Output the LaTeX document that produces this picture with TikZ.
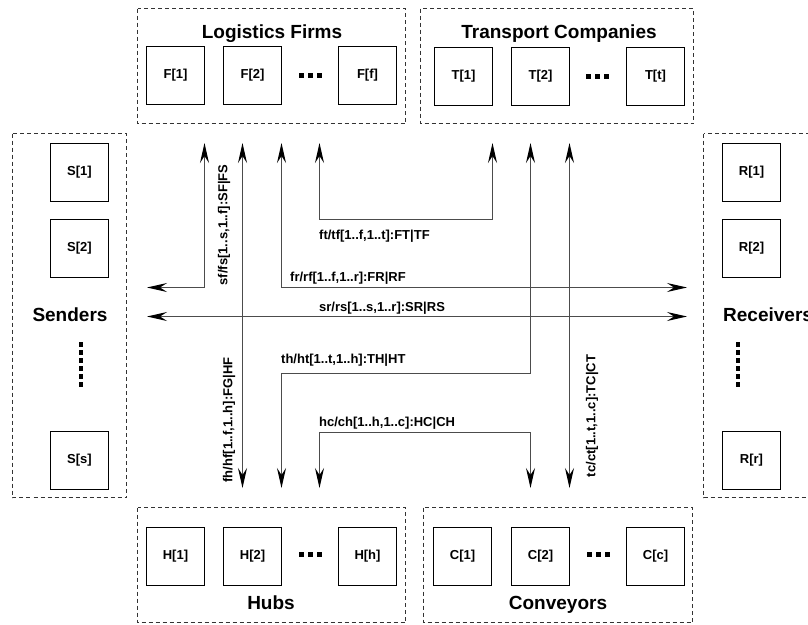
\documentclass[tikz,border=0pt]{standalone}
\usepackage{fontspec}
\setmainfont{Liberation Sans}
\usetikzlibrary{arrows.meta}
\begin{document}
\begin{tikzpicture}[x=1pt,y=-1pt,
  grp/.style={draw=black!80, line width=0.8pt, dash pattern=on 4pt off 3pt},
  unit/.style={draw=black, line width=1.8pt, minimum width=58pt, minimum height=58pt, inner sep=0pt, font=\fontsize{13}{15}\selectfont\bfseries},
  ttl/.style={font=\fontsize{19}{22}\selectfont\bfseries, inner sep=0pt},
  lbl/.style={font=\fontsize{13}{15}\selectfont\bfseries, inner sep=0pt},
  ahead/.tip={Stealth[length=20pt,width=9pt,inset=7pt,black]},
  conn/.style={draw=black!70, line width=1.1pt, ahead-ahead},
  dotsq/.style={fill=black, minimum size=5pt, inner sep=0pt},
  vdotsq/.style={fill=black, minimum size=4.5pt, inner sep=0pt}
]
\useasboundingbox (0,0) rectangle (808,624);
\clip (0,0) rectangle (808,624);

% groups
\draw[grp] (137.5,8.5) rectangle (405.5,123.5);
\draw[grp] (420.5,8.5) rectangle (693.5,123.5);
\draw[grp] (137.5,507.5) rectangle (405.5,622.5);
\draw[grp] (423.5,507.5) rectangle (692.5,622.5);
\draw[grp] (12.5,133.5) rectangle (126.5,497.5);
\draw[grp] (703.5,133.5) rectangle (830,497.5);

% titles
\node[ttl, anchor=base] (tF) at (272,38) {Logistics Firms};
\node[ttl, anchor=base] (tT) at (559,38) {Transport Companies};
\node[ttl, anchor=base] (tH) at (271,609) {Hubs};
\node[ttl, anchor=base] (tC) at (558,609) {Conveyors};
\node[ttl, anchor=base] (tS) at (70,321) {Senders};
\node[ttl, anchor=base west] (tR) at (723,321) {Receivers};

% units
\node[unit] (F1) at (175.5,75.5) {F[1]};
\node[unit] (F2) at (252.5,75.5) {F[2]};
\node[unit] (Ff) at (367.5,75.5) {F[f]};
\node[unit] (T1) at (463.5,76.5) {T[1]};
\node[unit] (T2) at (540.5,76.5) {T[2]};
\node[unit] (Tt) at (655.5,76.5) {T[t]};
\node[unit] (H1) at (175.5,556.5) {H[1]};
\node[unit] (H2) at (252.5,556.5) {H[2]};
\node[unit] (Hh) at (367.5,556.5) {H[h]};
\node[unit] (C1) at (462.5,556.5) {C[1]};
\node[unit] (C2) at (540.5,556.5) {C[2]};
\node[unit] (Cc) at (655.5,556.5) {C[c]};
\node[unit] (S1) at (79.5,172.5) {S[1]};
\node[unit] (S2) at (79.5,248.5) {S[2]};
\node[unit] (Ss) at (79.5,460.5) {S[s]};
\node[unit] (R1) at (751.5,172.5) {R[1]};
\node[unit] (R2) at (751.5,248.5) {R[2]};
\node[unit] (Rr) at (751.5,460.5) {R[r]};

% horizontal dots
\foreach \cx/\cy/\nm in {310/75/dF, 597.5/76/dT, 310/554/dH, 598/554/dC}{
  \foreach \k in {-9,0,9}{
    \node[dotsq] (\nm\k) at (\cx+\k,\cy) {};
  }
}
% vertical dots
\foreach \cx/\nm in {81/dS, 738/dR}{
  \foreach \k in {0,...,5}{
    \node[vdotsq] (\nm\k) at (\cx,344.5+8*\k) {};
  }
}

% connector end points
\coordinate (sfT) at (204.5,143);
\coordinate (sfL) at (147,287.5);
\coordinate (fhT) at (242.5,143);
\coordinate (fhB) at (242.5,488);
\coordinate (frT) at (281.5,143);
\coordinate (frR) at (687,287.5);
\coordinate (ftA) at (319.5,143);
\coordinate (ftB) at (492.5,143);
\coordinate (srL) at (147,316.5);
\coordinate (srR) at (687,316.5);
\coordinate (thB) at (281.5,488);
\coordinate (thT) at (530.5,143);
\coordinate (hcA) at (319.5,488);
\coordinate (hcB) at (530.5,488);
\coordinate (tcT) at (569.5,143);
\coordinate (tcB) at (569.5,488);

% connectors
\draw[conn] (sfT) |- (sfL);
\draw[conn] (fhT) -- (fhB);
\draw[conn] (frT) |- (frR);
\draw[conn] (ftA) -- (319.5,219.5) -- (492.5,219.5) -- (ftB);
\draw[conn] (srL) -- (srR);
\draw[conn] (thB) |- (530.5,373.5) -- (thT);
\draw[conn] (hcA) -- (319.5,432.5) -- (530.5,432.5) -- (hcB);
\draw[conn] (tcT) -- (tcB);

% connector labels
\node[lbl, rotate=90] (lsf) at (224,225) {sf/fs[1..s,1..f]:SF|FS};
\node[lbl, rotate=90] (lfh) at (229,420) {fh/hf[1..f,1..h]:FG|HF};
\node[lbl, rotate=90] (ltc) at (592,416) {tc/ct[1..t,1..c]:TC|CT};
\node[lbl, anchor=base west] (lft) at (319,239.5) {ft/tf[1..f,1..t]:FT|TF};
\node[lbl, anchor=base west] (lfr) at (290,281.5) {fr/rf[1..f,1..r]:FR|RF};
\node[lbl, anchor=base west] (lsr) at (319,311.5) {sr/rs[1..s,1..r]:SR|RS};
\node[lbl, anchor=base west] (lth) at (281,363.5) {th/ht[1..t,1..h]:TH|HT};
\node[lbl, anchor=base west] (lhc) at (319,426.5) {hc/ch[1..h,1..c]:HC|CH};
\end{tikzpicture}
\end{document}
